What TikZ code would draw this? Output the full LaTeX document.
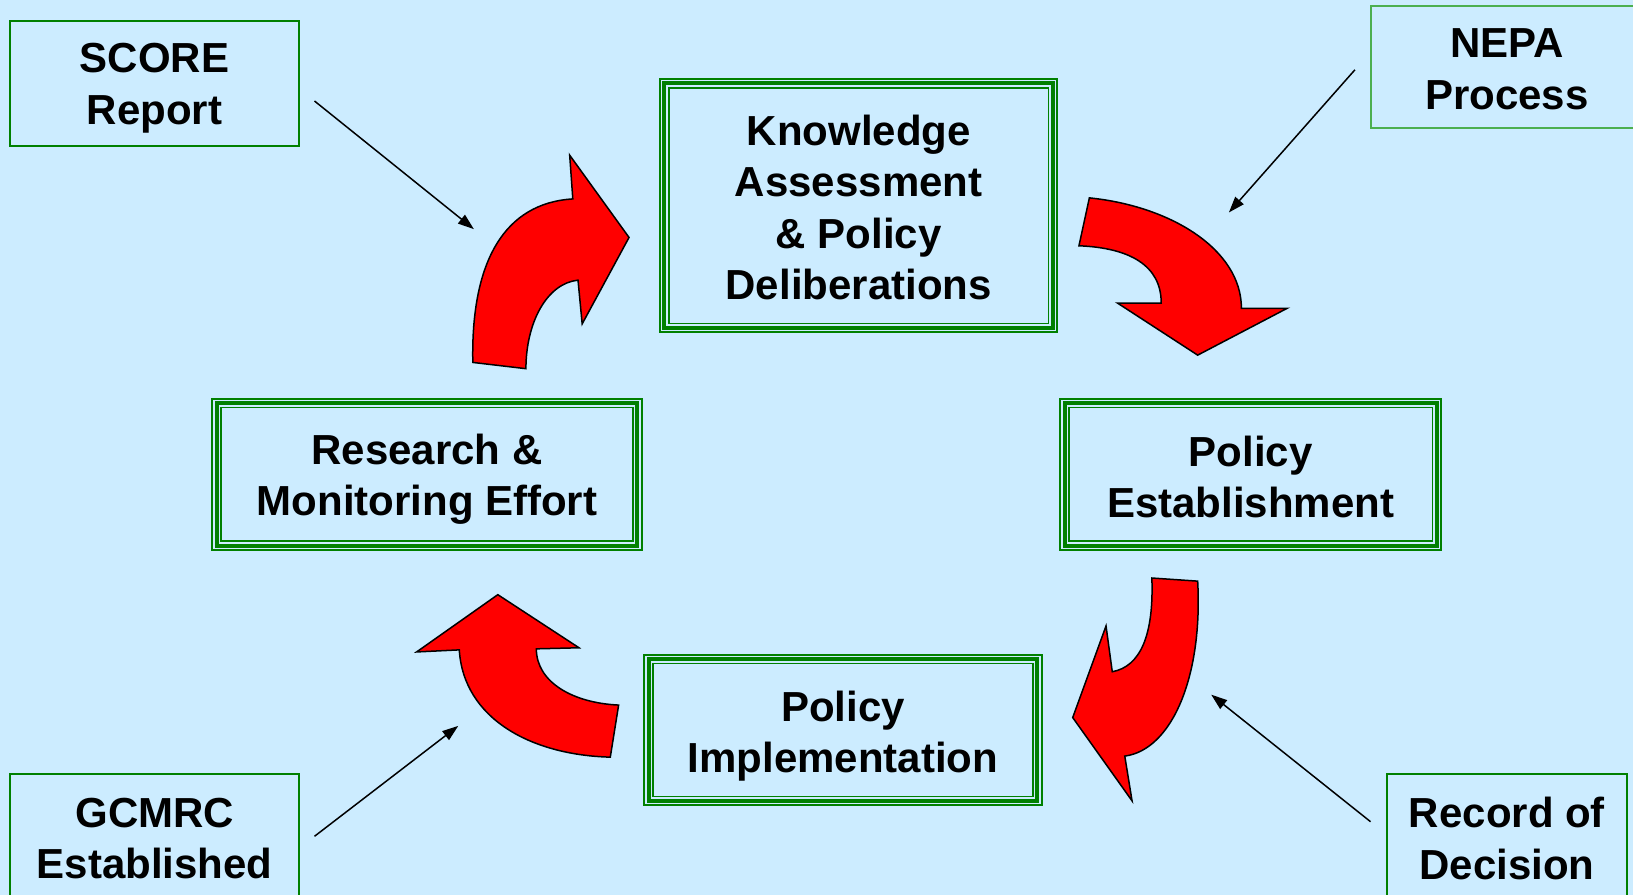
\documentclass[tikz,border=0pt]{standalone}
\usepackage{fontspec}
\setmainfont{Liberation Sans}
\usetikzlibrary{arrows.meta}
\definecolor{bg}{RGB}{204,236,255}
\definecolor{dg}{RGB}{0,128,0}
\definecolor{lg}{RGB}{76,175,80}
\newcommand\tripleframe[1]{%
 \draw[dg,line width=2pt,line join=miter] ([shift={(1pt,1pt)}]#1.south west) rectangle ([shift={(-1pt,-1pt)}]#1.north east);
 \draw[dg,line width=4pt,line join=miter] ([shift={(5.5pt,5.5pt)}]#1.south west) rectangle ([shift={(-5.5pt,-5.5pt)}]#1.north east);
 \draw[dg,line width=1.6pt,line join=miter] ([shift={(9.8pt,9.8pt)}]#1.south west) rectangle ([shift={(-9.8pt,-9.8pt)}]#1.north east);}
\begin{document}
\begin{tikzpicture}[x=1.0415pt,y=-1.0415pt,
  lbl/.style={font=\fontsize{42}{51.5}\selectfont\bfseries, align=center, text=black, inner sep=0pt},
  tribox/.style={inner sep=0pt},
  thinbox/.style={draw=dg, line width=2pt, inner sep=0pt},
  redarrow/.style={fill=red, draw=black, line width=1.5pt, line join=miter},
  pointer/.style={draw=black, line width=1.5pt, -{Triangle[length=16pt,width=11pt]}}]
\fill[bg] (0,0) rectangle (1568,859);
\useasboundingbox (0,0) rectangle (1568,859);

% main boxes
\node[tribox, minimum width=399pt, minimum height=255pt] (know) at (824.5,197.5) {};
\tripleframe{know}
\node[lbl] (knowT) at ([yshift=-2pt]know.center) {Knowledge\\Assessment\\\& Policy\\Deliberations};
\node[tribox, minimum width=431pt, minimum height=153pt] (research) at (410,455.5) {};
\tripleframe{research}
\node[lbl] (researchT) at ([yshift=-5pt]research.center) {Research \&\\Monitoring Effort};
\node[tribox, minimum width=383pt, minimum height=153pt] (estab) at (1201,455.5) {};
\tripleframe{estab}
\node[lbl] (estabT) at ([yshift=-2.5pt]estab.center) {Policy\\Establishment};
\node[tribox, minimum width=399pt, minimum height=152pt] (impl) at (809.5,701) {};
\tripleframe{impl}
\node[lbl] (implT) at ([yshift=-6pt]impl.center) {Policy\\Implementation};

% corner boxes
\node[thinbox, minimum width=288.5pt, minimum height=125pt] (score) at (148.5,80) {};
\node[lbl] (scoreT) at ([yshift=-5pt]score.center) {SCORE\\Report};
\node[thinbox, draw=lg, minimum width=273pt, minimum height=122pt] (nepa) at (1447,64.5) {};
\node[lbl] (nepaT) at ([yshift=-2pt]nepa.center) {NEPA\\Process};
\node[thinbox, minimum width=288.5pt, minimum height=129pt] (gcmrc) at (148.5,805) {};
\node[lbl] (gcmrcT) at (gcmrc.center) {GCMRC\\Established};
\node[thinbox, minimum width=239.5pt, minimum height=129pt] (rod) at (1447,805) {};
\node[lbl] (rodT) at (rod.center) {Record of\\Decision};

% pointer arrows
\coordinate (s1) at (302,97);   \coordinate (s2) at (455,220);
\coordinate (n1) at (1301,67);  \coordinate (n2) at (1180,204);
\coordinate (g1) at (302,803);  \coordinate (g2) at (440,697);
\coordinate (r1) at (1316,789); \coordinate (r2) at (1163,667);
\draw[pointer] (s1) -- (s2);
\draw[pointer] (n1) -- (n2);
\draw[pointer] (g1) -- (g2);
\draw[pointer] (r1) -- (r2);

% red curved arrows
\draw[redarrow] (454,348) .. controls (452,250) and (485,195) .. (550,191) -- (547,149) -- (604,228) -- (559,311) -- (555,269) .. controls (525,272) and (505,310) .. (505,354) -- cycle;
\draw[redarrow] (1046,190) .. controls (1125,198) and (1192,240) .. (1192,296) -- (1236,296) -- (1150,341) -- (1073,291) -- (1115,291) .. controls (1115,255) and (1085,238) .. (1036,236) -- cycle;
\draw[redarrow] (1106,555) -- (1150,558) .. controls (1155,650) and (1125,720) .. (1080,726) -- (1087,769) -- (1030,689) -- (1062,601) -- (1068,645) .. controls (1095,640) and (1108,610) .. (1106,555) -- cycle;
\draw[redarrow] (441,624) -- (400,626) -- (478,571) -- (556,622) -- (515,623) .. controls (515,655) and (550,675) .. (594,677) -- (586,727) .. controls (510,725) and (445,690) .. (441,624) -- cycle;
\end{tikzpicture}
\end{document}
